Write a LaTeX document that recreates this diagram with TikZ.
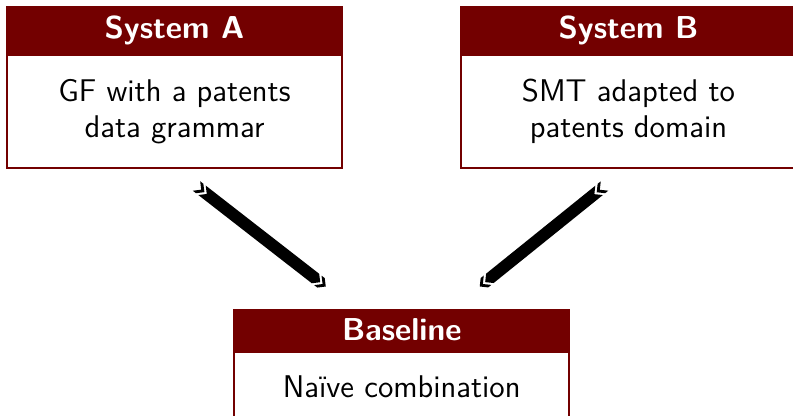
\documentclass[tikz,border=0pt]{standalone}
\usetikzlibrary{calc}
\definecolor{boxred}{RGB}{115,0,0}
\newlength\pxu
\setlength\pxu{0.357pt}

% Thick connector: a forward chevron, a shaft with a notched tail and a
% pointed head, and a second chevron in front of the head.
\newcommand\chevarrow[2]{%
  \fill[black]
    ($(#1)!0pt!(#2)!6\pxu!90:(#2)$) -- ($(#1)!6\pxu!(#2)$) --
    ($(#1)!0pt!(#2)!6\pxu!-90:(#2)$) -- ($(#1)!4\pxu!(#2)!6\pxu!-90:(#2)$) --
    ($(#1)!10\pxu!(#2)$) -- ($(#1)!4\pxu!(#2)!6\pxu!90:(#2)$) -- cycle;
  \fill[black]
    ($(#1)!7\pxu!(#2)!6\pxu!90:(#2)$) -- ($(#1)!13\pxu!(#2)$) --
    ($(#1)!7\pxu!(#2)!6\pxu!-90:(#2)$) -- ($(#2)!13\pxu!(#1)!6\pxu!-90:(#2)$) --
    ($(#2)!7\pxu!(#1)$) -- ($(#2)!13\pxu!(#1)!6\pxu!90:(#2)$) -- cycle;
  \fill[black]
    ($(#2)!10\pxu!(#1)!6\pxu!90:(#2)$) -- ($(#2)!4\pxu!(#1)$) --
    ($(#2)!10\pxu!(#1)!6\pxu!-90:(#2)$) -- ($(#2)!6\pxu!(#1)!6\pxu!-90:(#2)$) --
    (#2) -- ($(#2)!6\pxu!(#1)!6\pxu!90:(#2)$) -- cycle;
}

\tikzset{
  head/.style={draw=boxred, fill=boxred, line width=2\pxu, inner sep=0pt,
    text=white, font=\sffamily\bfseries\fontsize{11.3}{13}\selectfont,
    anchor=north, minimum width=335\pxu},
  body/.style={draw=boxred, line width=2\pxu, inner sep=0pt, fill=white,
    align=center, font=\sffamily\fontsize{11.2}{12.86}\selectfont,
    anchor=north, minimum width=335\pxu},
}

\begin{document}
\begin{tikzpicture}[x=\pxu, y=-\pxu]
  \useasboundingbox (0,0) rectangle (793,415);

  % System A
  \node[head, minimum height=46\pxu] (headA) at (174.5,6) {System A};
  \node[body, minimum height=113\pxu] (sysA) at (headA.south) {GF with a patents\\data grammar};

  % System B
  \node[head, minimum height=46\pxu] (headB) at (628.5,6) {System B};
  \node[body, minimum height=113\pxu] (sysB) at (headB.south) {SMT adapted to\\patents domain};

  % Baseline
  \node[head, minimum height=40.5\pxu] (headC) at (401.75,308.5) {Baseline};
  \node[body, minimum height=70\pxu] (base) at (headC.south) {Na\"{\i}ve combination};

  % connector ends
  \coordinate (aS) at ([shift={(22,17)}]sysA.south);
  \coordinate (aE) at ([shift={(-76,-22)}]headC.north);
  \coordinate (bS) at ([shift={(-24,17)}]sysB.south);
  \coordinate (bE) at ([shift={(78,-22)}]headC.north);

  \chevarrow{aS}{aE}
  \chevarrow{bS}{bE}
\end{tikzpicture}
\end{document}
